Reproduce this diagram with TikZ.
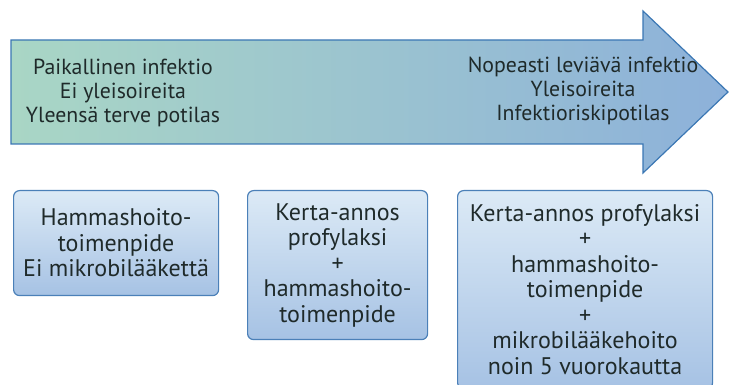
\documentclass[tikz,border=0pt]{standalone}
\usepackage{fontspec}
\setsansfont{PT Sans}
\renewcommand{\familydefault}{\sfdefault}
\definecolor{arrowleft}{HTML}{A9D6C5}
\definecolor{arrowright}{HTML}{8DB1DA}
\definecolor{arrowline}{HTML}{3B77B4}
\definecolor{boxtop}{HTML}{DCEAF6}
\definecolor{boxbottom}{HTML}{A6C2E4}
\definecolor{boxline}{HTML}{4B80B8}
\definecolor{txt}{HTML}{1F2A2A}
\begin{document}
\begin{tikzpicture}[x=1pt,y=1pt,
    box/.style={draw=boxline, line width=1.2pt, rounded corners=6pt,
      top color=boxtop, bottom color=boxbottom, align=center,
      anchor=north west, text=txt, font=\fontsize{24}{25.5}\selectfont},
    arrowtext/.style={align=center, text=txt,
      font=\fontsize{21.8}{24}\selectfont}]
  \useasboundingbox (0,0) rectangle (729,385);
  \clip (0,0) rectangle (729,385);
  %big arrow
  \draw[draw=arrowline, line width=1.2pt, left color=arrowleft,
        right color=arrowright]
        (11,241) -- (11,345) -- (643,345) -- (643,374)
        -- (728,293) -- (643,212) -- (643,241) -- cycle;
  %arrow texts
  \node[arrowtext] (local) at (123,292)
        {Paikallinen infektio\\Ei yleisoireita\\Yleensä terve potilas};
  \node[arrowtext] (spread) at (583,294)
        {Nopeasti leviävä infektio\\Yleisoireita\\Infektioriskipotilas};
  %treatment boxes
  \node[box, minimum width=205pt, minimum height=105pt] (dental) at (13,195)
        {Hammashoito-\\toimenpide\\Ei mikrobilääkettä};
  \node[box, minimum width=180pt, minimum height=149pt] (single) at (247,195)
        {Kerta-annos\\profylaksi\\+\\hammashoito-\\toimenpide};
  \node[box, minimum width=255pt, minimum height=198pt] (course) at (457,195)
        {Kerta-annos profylaksi\\+\\hammashoito-\\toimenpide\\+\\
         mikrobilääkehoito\\noin 5 vuorokautta};
\end{tikzpicture}
\end{document}
